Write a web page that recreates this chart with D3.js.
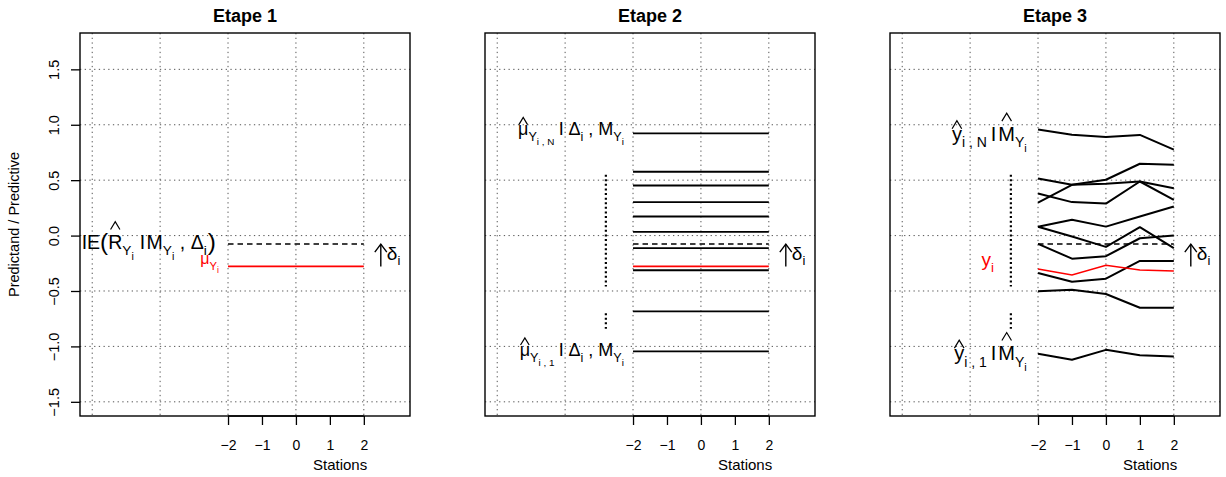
<!DOCTYPE html>
<html><head><meta charset="utf-8">
<script src="https://cdn.jsdelivr.net/npm/d3@7"></script>
<style>body{margin:0;background:#fff}svg{display:block}text{font-family:"Liberation Sans",Arial,Helvetica,sans-serif;white-space:pre}</style>
</head><body>
<svg id="chart" width="1226" height="477"></svg>
<script>
// ---------- data ----------
const panelTitles = ["Etape 1", "Etape 2", "Etape 3"];
const stations = [-2, -1, 0, 1, 2];
const xTickLabels = ["\u22122", "\u22121", "0", "1", "2"];
const yTicks = [-1.5, -1, -0.5, 0, 0.5, 1, 1.5];
const yTickLabels = ["\u22121.5", "\u22121.0", "\u22120.5", "0.0", "0.5", "1.0", "1.5"];
const xGrid = [-6, -4, -2, 0, 2];
const expectedValue = -0.077;      // dashed line IE(R | M, Delta)
const climMean = -0.278;           // red line mu_Y
const etape2Means = [0.922, 0.576, 0.452, 0.302, 0.172, 0.033, -0.114, -0.313, -0.684, -1.045];
const etape3Members = [
  [0.958, 0.910, 0.890, 0.908, 0.775],
  [0.298, 0.458, 0.504, 0.648, 0.639],
  [0.515, 0.458, 0.467, 0.488, 0.428],
  [0.380, 0.302, 0.289, 0.488, 0.323],
  [0.079, 0.142, 0.081, 0.172, 0.262],
  [0.079, -0.009, -0.102, 0.076, -0.114],
  [-0.075, -0.208, -0.186, -0.024, 0.000],
  [-0.337, -0.416, -0.389, -0.229, -0.229],
  [-0.503, -0.488, -0.527, -0.651, -0.651],
  [-1.067, -1.121, -1.031, -1.079, -1.090]
];
const etape3Obs = [-0.301, -0.355, -0.268, -0.310, -0.319];

// ---------- layout ----------
const svg = d3.select("#chart");
const panelLeft = [80, 485, 890], pw = 330, plotTop = 33, plotBottom = 416;
const xDom = [-6.36, 3.36], yDom = [-1.628, 1.828];
const y = d3.scaleLinear().domain(yDom).range([plotBottom, plotTop]);
const FONT = '"Liberation Sans",Arial,Helvetica,sans-serif';

function mathLabel(g, xEnd, yBase, runs, F, color) {
  const grp = g.append("g").attr("fill", color);
  const sizes = [1, 0.7, 0.55], shifts = [0, 0.32, 0.56];
  let x = 0;
  runs.forEach(r => {
    if (r.gap !== undefined) { x += r.gap * F; return; }
    const lvl = r.l || 0;
    const fs = F * sizes[lvl] * (r.s || 1);
    const t = grp.append("text").attr("x", x)
      .attr("y", shifts[lvl] * F + (r.dy || 0) * F)
      .attr("font-size", fs).text(r.t);
    const w = t.node().getComputedTextLength();
    if (r.hat) {
      const cx = x + w / 2;
      const b = -(r.hat === "up" ? 0.98 : 0.6) * F;
      const hh = 0.4 * F, hw = 0.24 * F;
      grp.append("path").attr("d", `M${cx - hw},${b}L${cx},${b - hh}L${cx + hw},${b}`)
        .attr("fill", "none").attr("stroke", color).attr("stroke-width", 1.2);
    }
    x += w;
  });
  grp.attr("transform", `translate(${xEnd - x},${yBase})`);
}

function arrowDelta(g, x0, from, to) {
  const y0 = y(from), y1 = y(to);
  g.append("line").attr("x1", x0).attr("x2", x0).attr("y1", y0).attr("y2", y1)
    .attr("stroke", "#000").attr("stroke-width", 1.4);
  g.append("path").attr("d", `M${x0 - 6},${y1 + 8}L${x0},${y1}L${x0 + 6},${y1 + 8}`)
    .attr("fill", "none").attr("stroke", "#000").attr("stroke-width", 1.4);
  const t = g.append("text").attr("x", x0 + 6).attr("y", y1 + 16).attr("font-size", 19);
  t.append("tspan").text("\u03b4");
  t.append("tspan").attr("font-size", 13).attr("dy", 5).text("i");
}

panelTitles.forEach((title, p) => {
  const x = d3.scaleLinear().domain(xDom).range([panelLeft[p], panelLeft[p] + pw]);
  const g = svg.append("g");

  // grid
  g.selectAll(".gx").data(xGrid).join("line")
    .attr("x1", d => x(d)).attr("x2", d => x(d)).attr("y1", plotTop).attr("y2", plotBottom)
    .attr("stroke", "#555").attr("stroke-width", 1).attr("stroke-dasharray", "1.3,3.4");
  g.selectAll(".gy").data(yTicks).join("line")
    .attr("x1", x(xDom[0])).attr("x2", x(xDom[1])).attr("y1", d => y(d)).attr("y2", d => y(d))
    .attr("stroke", "#555").attr("stroke-width", 1).attr("stroke-dasharray", "1.3,3.4");

  // x axis
  const xa = g.append("g").attr("transform", `translate(0,${plotBottom})`)
    .call(d3.axisBottom(x).tickValues(stations).tickSize(9).tickPadding(6)
      .tickFormat((d, i) => xTickLabels[i]));
  xa.select(".domain").attr("d", `M${x(-2)},0H${x(2)}`).attr("stroke-width", 1.3);
  xa.selectAll(".tick line").attr("stroke-width", 1.3);
  xa.selectAll("text").attr("font-size", 14).attr("font-family", FONT).attr("fill", "#000")
    .attr("dy", null).attr("y", 34);

  g.append("text").attr("x", x(1.3)).attr("y", 470).attr("text-anchor", "middle")
    .attr("font-size", 15).text("Stations");

  // title
  g.append("text").attr("x", x(xDom[0]) + pw / 2).attr("y", 22).attr("text-anchor", "middle")
    .attr("font-size", 18).attr("font-weight", "bold").text(title);

  if (p === 0) {
    const ya = g.append("g").attr("transform", `translate(${panelLeft[0]},0)`)
      .call(d3.axisLeft(y).tickValues(yTicks).tickSize(9).tickFormat((d, i) => yTickLabels[i]));
    ya.select(".domain").remove();
    ya.selectAll(".tick line").attr("stroke-width", 1.3);
    ya.selectAll("text").attr("font-size", 14.5).attr("font-family", FONT).attr("fill", "#000")
      .attr("x", null).attr("dy", null).attr("text-anchor", "middle")
      .attr("transform", "translate(-21,0) rotate(-90)");
    g.append("text").attr("transform", `translate(19,${(plotTop + plotBottom) / 2}) rotate(-90)`)
      .attr("text-anchor", "middle").attr("font-size", 14.5).text("Predictand / Predictive");

    const line = d3.line().x(d => x(d[0])).y(d => y(d[1]));
    g.append("path").attr("d", line([[-2, expectedValue], [2, expectedValue]]))
      .attr("stroke", "#000").attr("stroke-width", 1.5).attr("stroke-dasharray", "5.5,4").attr("fill", "none");
    g.append("path").attr("d", line([[-2, climMean], [2, climMean]]))
      .attr("stroke", "#ff0000").attr("stroke-width", 1.6).attr("fill", "none");

    mathLabel(g, x(-2.36), y(-0.118), [
      { t: "IE" }, { t: "(", s: 1.25, dy: 0.06 }, { t: "R", hat: "up" }, { t: "Y", l: 1 }, { t: "i", l: 2 },
      { gap: 0.3 }, { t: "I" }, { gap: 0.08 }, { t: "M" }, { t: "Y", l: 1 }, { t: "i", l: 2 },
      { t: " , " }, { t: "\u0394" }, { t: "i", l: 1 }, { gap: 0.05 }, { t: ")", s: 1.25, dy: 0.06 }
    ], 19.5, "#000");
    mathLabel(g, x(-2.27), y(-0.26), [
      { t: "\u03bc" }, { t: "Y", l: 1 }, { t: "i", l: 2 }
    ], 16, "#ff0000");
    arrowDelta(g, x(2.5), climMean, expectedValue);
  }

  if (p === 1) {
    g.selectAll(".m2").data(etape2Means).join("line")
      .attr("x1", x(-2)).attr("x2", x(2)).attr("y1", d => y(d)).attr("y2", d => y(d))
      .attr("stroke", "#000").attr("stroke-width", 1.8);
    g.append("line").attr("x1", x(-2)).attr("x2", x(2)).attr("y1", y(expectedValue)).attr("y2", y(expectedValue))
      .attr("stroke", "#000").attr("stroke-width", 1.5).attr("stroke-dasharray", "5.5,4");
    g.append("line").attr("x1", x(-2)).attr("x2", x(2)).attr("y1", y(climMean)).attr("y2", y(climMean))
      .attr("stroke", "#ff0000").attr("stroke-width", 1.6);
    const F = 18;
    [["N", 0.904], ["1", -1.085]].forEach(([k, v]) => {
      mathLabel(g, x(-2.27), y(v), [
        { t: "\u03bc", hat: "low" }, { t: "Y", l: 1 }, { t: "i , " + k, l: 2 },
        { gap: 0.25 }, { t: "I" }, { gap: 0.25 }, { t: "\u0394" }, { t: "i", l: 1 }, { t: " , " },
        { t: "M" }, { t: "Y", l: 1 }, { t: "i", l: 2 }
      ], F, "#000");
    });
    arrowDelta(g, x(2.5), climMean, expectedValue);
  }

  if (p === 2) {
    const line = d3.line().x((d, i) => x(stations[i])).y(d => y(d));
    g.selectAll(".m3").data(etape3Members).join("path")
      .attr("d", line).attr("fill", "none").attr("stroke", "#000").attr("stroke-width", 2)
      .attr("stroke-linejoin", "round");
    g.append("line").attr("x1", x(-2)).attr("x2", x(2)).attr("y1", y(expectedValue)).attr("y2", y(expectedValue))
      .attr("stroke", "#000").attr("stroke-width", 1.5).attr("stroke-dasharray", "5.5,4");
    g.append("path").attr("d", line(etape3Obs)).attr("fill", "none")
      .attr("stroke", "#ff0000").attr("stroke-width", 1.5);
    const F = 20;
    [["N", 0.856], ["1", -1.124]].forEach(([k, v]) => {
      mathLabel(g, x(-2.33), y(v), [
        { t: "y", hat: "low" }, { t: "i , " + k, l: 1 }, { gap: 0.2 }, { t: "I" }, { gap: 0.1 },
        { t: "M", hat: "up" }, { t: "Y", l: 1 }, { t: "i", l: 2 }
      ], F, "#000");
    });
    mathLabel(g, x(-3.3), y(-0.274), [{ t: "y" }, { t: "i", l: 1 }], 19, "#ff0000");
    arrowDelta(g, x(2.5), climMean, expectedValue);
  }

  if (p >= 1) {
    // vertical ellipsis columns
    [[0.55, -0.46], [-0.70, -0.84]].forEach(([a, b]) => {
      g.append("line").attr("x1", x(-2.8)).attr("x2", x(-2.8)).attr("y1", y(a)).attr("y2", y(b))
        .attr("stroke", "#000").attr("stroke-width", 2.2).attr("stroke-dasharray", "2,2.6");
    });
  }

  // box
  g.append("rect").attr("x", panelLeft[p]).attr("y", plotTop).attr("width", pw).attr("height", plotBottom - plotTop)
    .attr("fill", "none").attr("stroke", "#000").attr("stroke-width", 1.4);
});
</script>
</body></html>
